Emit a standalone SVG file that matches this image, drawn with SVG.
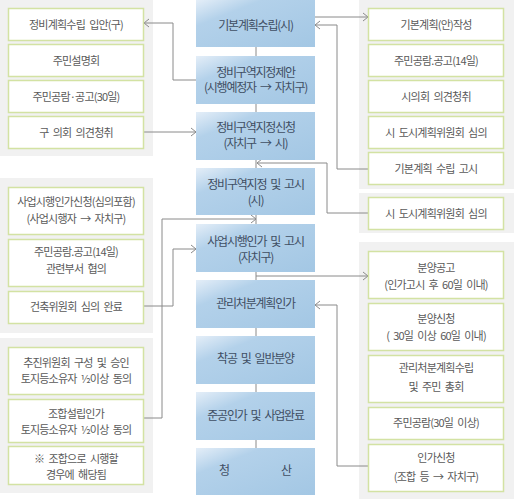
<svg xmlns="http://www.w3.org/2000/svg" width="514" height="502" viewBox="0 0 514 502">
<defs>
<linearGradient id="bg" x1="0" y1="0" x2="1" y2="1">
<stop offset="0" stop-color="#e4eef8"/>
<stop offset="0.28" stop-color="#b3d1ea"/>
<stop offset="1" stop-color="#a3c7e4"/>
</linearGradient>
<marker id="ar" markerWidth="8" markerHeight="10" refX="6" refY="5" orient="auto" markerUnits="userSpaceOnUse">
<path d="M1,1 L6,5 L1,9" fill="none" stroke="#8a8a8a" stroke-width="1"/>
</marker>
<style>
.pn{fill:#f1f1f1}
.sb{fill:#ffffff;stroke:#d3e2a3;stroke-width:1.5}
.cb{fill:url(#bg)}
.st{font-family:"Noto Sans CJK KR","Noto Sans",sans-serif;font-size:11px;fill:#5a5a5a;text-anchor:middle;letter-spacing:-0.8px;word-spacing:2.5px}
.ct{font-family:"Noto Sans CJK KR","Noto Sans",sans-serif;font-size:12px;fill:#3f4e63;text-anchor:middle;letter-spacing:-1.2px;word-spacing:2.5px}
.cn{fill:none;stroke:#8a8a8a;stroke-width:1}
</style>
</defs>
<rect width="514" height="502" fill="#ffffff"/>

<g id="panels">
<rect class="pn" x="0" y="0" width="153" height="156"/>
<rect class="pn" x="0" y="178" width="153" height="155"/>
<rect class="pn" x="0" y="338" width="153" height="155"/>
<rect class="pn" x="359" y="0" width="155" height="189"/>
<rect class="pn" x="359" y="193" width="155" height="40"/>
<rect class="pn" x="359" y="242" width="155" height="257"/>
</g>

<g id="connectors">
<path class="cn" d="M256,47 V56 M256,104 V112 M256,160 V168 M256,215 V224 M256,272 V280 M256,328 V336 M256,384 V392 M256,440 V448"/>
<path class="cn" d="M196,80 H173 V23 H144" marker-end="url(#ar)"/>
<path class="cn" d="M143,132 H196" marker-end="url(#ar)"/>
<path class="cn" d="M315,17 H368" marker-end="url(#ar)"/>
<path class="cn" d="M368,169 H337 V25 H315" marker-end="url(#ar)"/>
<path class="cn" d="M368,213 H327 V163 H257" marker-end="url(#ar)"/>
<path class="cn" d="M143,306 H173 V249 H196" marker-end="url(#ar)"/>
<path class="cn" d="M143,418 H162 V219 H256" marker-end="url(#ar)"/>
<path class="cn" d="M256,276 H368" marker-end="url(#ar)"/>
<path class="cn" d="M368,466 H337 V305 H315" marker-end="url(#ar)"/>
</g>

<g id="c1"><rect class="cb" x="196" y="0" width="119" height="47"/><text class="ct" x="255.5" y="29.5">기본계획수립(시)</text></g>
<g id="c2"><rect class="cb" x="196" y="56" width="119" height="48"/><text class="ct" x="255.5" y="76.5">정비구역지정제안</text><text class="ct" x="255.5" y="92">(시행예정자 → 자치구)</text></g>
<g id="c3"><rect class="cb" x="196" y="112" width="119" height="48"/><text class="ct" x="255.5" y="132">정비구역지정신청</text><text class="ct" x="255.5" y="148">(자치구 → 시)</text></g>
<g id="c4"><rect class="cb" x="196" y="168" width="119" height="47"/><text class="ct" x="255.5" y="189">정비구역지정 및 고시</text><text class="ct" x="255.5" y="205">(시)</text></g>
<g id="c5"><rect class="cb" x="196" y="224" width="119" height="48"/><text class="ct" x="255.5" y="246">사업시행인가 및 고시</text><text class="ct" x="255.5" y="262">(자치구)</text></g>
<g id="c6"><rect class="cb" x="196" y="280" width="119" height="48"/><text class="ct" x="255.5" y="308">관리처분계획인가</text></g>
<g id="c7"><rect class="cb" x="196" y="336" width="119" height="48"/><text class="ct" x="255.5" y="363">착공 및 일반분양</text></g>
<g id="c8"><rect class="cb" x="196" y="392" width="119" height="48"/><text class="ct" x="255.5" y="419.5">준공인가 및 사업완료</text></g>
<g id="c9"><rect class="cb" x="196" y="448" width="119" height="47"/><text class="ct" x="224" y="475">청</text><text class="ct" x="286" y="475">산</text></g>

<g id="l1"><rect class="sb" x="8.5" y="8.5" width="135" height="32"/><text class="st" x="76" y="28.5">정비계획수립 입안(구)</text></g>
<g id="l2"><rect class="sb" x="8.5" y="44.5" width="135" height="32"/><text class="st" x="76" y="64.5">주민설명회</text></g>
<g id="l3"><rect class="sb" x="8.5" y="80.5" width="135" height="32"/><text class="st" x="76" y="100.5">주민공람·공고(30일)</text></g>
<g id="l4"><rect class="sb" x="8.5" y="116.5" width="135" height="32"/><text class="st" x="76" y="136.5">구 의회 의견청취</text></g>

<g id="l5"><rect class="sb" x="8.5" y="187.5" width="135" height="47"/><text class="st" x="76" y="206">사업시행인가신청(심의포함)</text><text class="st" x="76" y="223">(사업시행자 → 자치구)</text></g>
<g id="l6"><rect class="sb" x="8.5" y="239.5" width="135" height="47"/><text class="st" x="76" y="256">주민공람.공고(14일)</text><text class="st" x="76" y="273">관련부서 협의</text></g>
<g id="l7"><rect class="sb" x="8.5" y="291.5" width="135" height="32"/><text class="st" x="76" y="311">건축위원회 심의 완료</text></g>

<g id="l8"><rect class="sb" x="8.5" y="347.5" width="135" height="47"/><text class="st" x="76" y="367">추진위원회 구성 및 승인</text><text class="st" x="76" y="383">토지등소유자 ½이상 동의</text></g>
<g id="l9"><rect class="sb" x="8.5" y="399.5" width="135" height="43"/><text class="st" x="76" y="418">조합설립인가</text><text class="st" x="76" y="434">토지등소유자 ½이상 동의</text></g>
<g id="l10"><rect class="sb" x="8.5" y="446.5" width="135" height="38"/><text class="st" x="76" y="463">※ 조합으로 시행할</text><text class="st" x="76" y="479">경우에 해당됨</text></g>

<g id="r1"><rect class="sb" x="368.5" y="8.5" width="135" height="32"/><text class="st" x="436" y="28.5">기본계획(안)작성</text></g>
<g id="r2"><rect class="sb" x="368.5" y="44.5" width="135" height="32"/><text class="st" x="436" y="64.5">주민공람.공고(14일)</text></g>
<g id="r3"><rect class="sb" x="368.5" y="80.5" width="135" height="32"/><text class="st" x="436" y="100.5">시의회 의견청취</text></g>
<g id="r4"><rect class="sb" x="368.5" y="116.5" width="135" height="32"/><text class="st" x="436" y="136.5">시 도시계획위원회 심의</text></g>
<g id="r5"><rect class="sb" x="368.5" y="152.5" width="135" height="32"/><text class="st" x="436" y="172.5">기본계획 수립 고시</text></g>
<g id="r6"><rect class="sb" x="368.5" y="197.5" width="135" height="32"/><text class="st" x="436" y="217.5">시 도시계획위원회 심의</text></g>

<g id="r7"><rect class="sb" x="368.5" y="251.5" width="135" height="47"/><text class="st" x="436" y="271.5">분양공고</text><text class="st" x="436" y="289">(인가고시 후 60일 이내)</text></g>
<g id="r8"><rect class="sb" x="368.5" y="303.5" width="135" height="47"/><text class="st" x="436" y="323">분양신청</text><text class="st" x="436" y="340">( 30일 이상 60일 이내)</text></g>
<g id="r9"><rect class="sb" x="368.5" y="355.5" width="135" height="47"/><text class="st" x="436" y="372">관리처분계획수립</text><text class="st" x="436" y="390.5">및 주민 총회</text></g>
<g id="r10"><rect class="sb" x="368.5" y="407.5" width="135" height="32"/><text class="st" x="436" y="427">주민공람(30일 이상)</text></g>
<g id="r11"><rect class="sb" x="368.5" y="444.5" width="135" height="47"/><text class="st" x="436" y="462">인가신청</text><text class="st" x="436" y="480.5">(조합 등 → 자치구)</text></g>
</svg>
